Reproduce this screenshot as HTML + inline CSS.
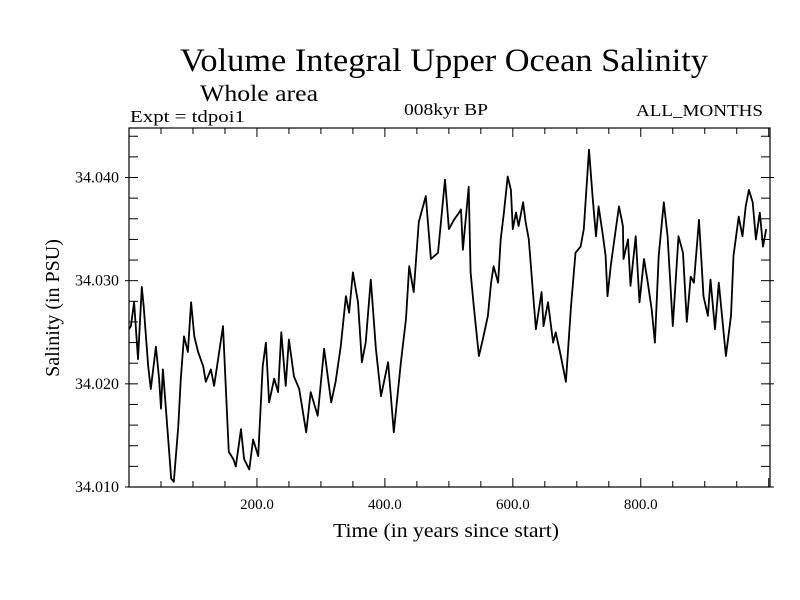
<!DOCTYPE html>
<html><head><meta charset="utf-8"><style>
html,body{margin:0;padding:0;background:#fff;}
svg{display:block;font-family:"Liberation Serif",serif;}
</style></head><body>
<svg id="chart" width="800" height="600" viewBox="0 0 800 600">
<text x="180" y="71" font-size="33" textLength="528" lengthAdjust="spacingAndGlyphs">Volume Integral Upper Ocean Salinity</text>
<text x="200" y="101" font-size="23" textLength="118" lengthAdjust="spacingAndGlyphs">Whole area</text>
<text x="130" y="122" font-size="17" textLength="115" lengthAdjust="spacingAndGlyphs">Expt = tdpoi1</text>
<text x="404" y="115" font-size="17" textLength="84" lengthAdjust="spacingAndGlyphs">008kyr BP</text>
<text x="636" y="116" font-size="17" textLength="127" lengthAdjust="spacingAndGlyphs">ALL_MONTHS</text>
<text x="333" y="537" font-size="20" textLength="226" lengthAdjust="spacingAndGlyphs">Time (in years since start)</text>
<text transform="translate(59,308) rotate(-90)" font-size="20" text-anchor="middle">Salinity (in PSU)</text>
<g id="axes"></g>
<g id="series"></g>
</svg>
<script>
const years=[0,3,8,14,20,23,30,34,42,47,50,53,61,66,70,77,81,86,92,97,102,108,116,120,128,133,141,147,152,156,163,167,175,180,188,194,202,209,214,219,227,233,238,245,250,258,266,277,284,295,305,316,323,331,339,344,350,358,364,370,378,386,394,405,414,425,433,438,445,453,464,472,483,494,500,508,516,519,522,531,534,539,547,553,561,566,570,577,581,586,592,597,600,605,609,616,620,625,631,636,645,648,655,663,667,675,683,691,698,706,711,719,725,730,734,741,745,748,753,761,766,772,773,780,784,792,798,805,811,817,822,828,836,842,850,859,866,872,878,883,891,898,905,909,916,922,933,941,945,953,959,964,969,975,980,986,991,996];
const salinity=[34.0253,34.0256,34.0279,34.0224,34.0294,34.0275,34.0217,34.0195,34.0236,34.0205,34.0176,34.0214,34.0149,34.0108,34.0105,34.0159,34.0205,34.0246,34.0231,34.0279,34.0246,34.0231,34.0217,34.0202,34.0214,34.0198,34.0231,34.0256,34.0188,34.0134,34.0127,34.0120,34.0156,34.0127,34.0117,34.0146,34.0130,34.0217,34.0240,34.0182,34.0205,34.0192,34.0250,34.0198,34.0243,34.0207,34.0195,34.0153,34.0192,34.0169,34.0234,34.0182,34.0202,34.0236,34.0285,34.0269,34.0308,34.0279,34.0221,34.0240,34.0301,34.0234,34.0188,34.0221,34.0153,34.0221,34.0263,34.0314,34.0289,34.0357,34.0382,34.0321,34.0327,34.0398,34.0350,34.0359,34.0366,34.0369,34.0330,34.0391,34.0308,34.0275,34.0227,34.0243,34.0266,34.0298,34.0314,34.0298,34.0340,34.0366,34.0401,34.0388,34.0350,34.0366,34.0353,34.0376,34.0357,34.0340,34.0292,34.0253,34.0289,34.0256,34.0279,34.0240,34.0250,34.0227,34.0202,34.0275,34.0327,34.0333,34.0350,34.0427,34.0379,34.0343,34.0372,34.0343,34.0324,34.0285,34.0314,34.0350,34.0372,34.0353,34.0321,34.0340,34.0295,34.0343,34.0279,34.0321,34.0298,34.0272,34.0240,34.0324,34.0376,34.0343,34.0256,34.0343,34.0327,34.0260,34.0304,34.0298,34.0359,34.0285,34.0266,34.0301,34.0253,34.0298,34.0227,34.0266,34.0324,34.0362,34.0343,34.0372,34.0388,34.0376,34.0340,34.0366,34.0333,34.0350];
const xTickLabels=["200.0","400.0","600.0","800.0"];
const xTickValues=[200,400,600,800];
const yTickLabels=["34.010","34.020","34.030","34.040"];
const yTickValues=[34.010,34.020,34.030,34.040];

const L=129,R=770,T=128,B=487;
const X0=0,X1=1002,Y0=34.010,Y1=34.0448;
function sx(v){return L+(v-X0)/(X1-X0)*(R-L);}
function sy(v){return B-(v-Y0)/(Y1-Y0)*(B-T);}
const NS="http://www.w3.org/2000/svg";
const axes=document.getElementById('axes');
function mk(tag,attrs,parent){const e=document.createElementNS(NS,tag);for(const k in attrs)e.setAttribute(k,attrs[k]);parent.appendChild(e);return e;}

const frame=mk('rect',{x:L,y:T,width:R-L,height:B-T,fill:'none',stroke:'#000','stroke-width':1.2},axes);



for(let v=50;v<X1;v+=50){
  const x=sx(v);const major=(v%200===0);const len=major?9:6;
  const tb=mk('line',{x1:x,y1:B,x2:x,y2:B-len,stroke:'#000'},axes);
  
  
  const tt=mk('line',{x1:x,y1:T,x2:x,y2:T+len,stroke:'#000'},axes);
  
  
}
xTickValues.forEach((v,i)=>{
  const t=mk('text',{x:sx(v),y:B+22,'font-size':15,'text-anchor':'middle'},axes);
  t.textContent=xTickLabels[i];
  
  
});
for(let k=0;k<=17;k++){
  const v=34.010+k*0.002;if(v>Y1)break;
  const y=sy(v);const major=(k%5===0);
  const l1=mk('line',{x1:major?L-4:L,y1:y,x2:L+9,y2:y,stroke:'#000'},axes);
  
  
  const l2=mk('line',{x1:R-9,y1:y,x2:major?R+4:R,y2:y,stroke:'#000'},axes);
  
  
}
yTickValues.forEach((v,i)=>{
  const t=mk('text',{x:L-10,y:sy(v)+5,'font-size':16,'text-anchor':'end'},axes);
  t.textContent=yTickLabels[i];
  
  
});
const d=years.map((yr,i)=>(i?'L':'M')+sx(yr).toFixed(1)+' '+sy(salinity[i]).toFixed(1)).join(' ');
const p=mk('path',{d:d,fill:'none',stroke:'#000','stroke-width':1.8,'stroke-linejoin':'round'},document.getElementById('series'));


</script>
</body></html>
